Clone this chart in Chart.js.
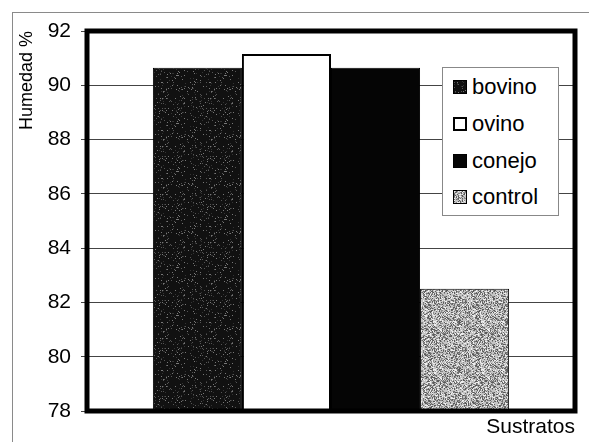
<!DOCTYPE html>
<html>
<head>
<meta charset="utf-8">
<script src="https://cdn.jsdelivr.net/npm/chart.js@4/dist/chart.umd.min.js"></script>
<style>
  body { margin: 0; background: #fff; }
  #wrap { position: relative; width: 589px; height: 442px; }
  #frame { position: absolute; left: 12px; top: 12px; right: 0; bottom: 0;
           border-top: 1px solid #8a8a8a; border-left: 1px solid #8a8a8a; }
  #leyenda { position: absolute; left: 442px; top: 67px; width: 117px; height: 149px;
             background: #fff; border: 1px solid #888; box-sizing: border-box;
             font-family: "Liberation Sans", Arial, sans-serif; font-size: 22px; color: #000;
             padding-top: 1px; }
  .item { height: 36.7px; display: flex; align-items: center; padding-left: 10px; }
  .sw { width: 14px; height: 14px; box-sizing: border-box; border: 1px solid #000;
        margin-right: 5px; flex: none; }
</style>
</head>
<body>
<div id="wrap">
  <div id="frame"></div>
  <canvas id="graficoHumedad" width="589" height="442"></canvas>
  <div id="leyenda"></div>
</div>
<script>
// datos
const categorias = [''];
const sustratos = ['bovino', 'ovino', 'conejo', 'control'];
const humedad = [90.65, 91.15, 90.65, 82.5];
const ticksY = [78, 80, 82, 84, 86, 88, 90, 92];

const fuente = '"Liberation Sans", Arial, sans-serif';

// textura punteada (determinista) para imitar el relleno escaneado
function hacerPatron(base, puntos, densidad, semilla) {
    const c = document.createElement('canvas');
    c.width = 48; c.height = 48;
    const ctx = c.getContext('2d');
    ctx.fillStyle = base;
    ctx.fillRect(0, 0, 48, 48);
    for (let y = 0; y < 48; y++) {
        for (let x = 0; x < 48; x++) {
            let h = (x * 374761393 + y * 668265263 + semilla * 144665) | 0;
            h = Math.imul(h ^ (h >>> 13), 1274126177);
            h = (h ^ (h >>> 16)) >>> 0;
            const r = (h % 1000) / 1000;
            if (r < densidad) {
                ctx.fillStyle = puntos[h % puntos.length];
                ctx.fillRect(x, y, 1, 1);
            }
        }
    }
    return c;
}

const texBovino = hacerPatron('#111111', ['#555', '#777', '#333'], 0.10, 7);
const texControl = hacerPatron('#c4c4c4', ['#5a5a5a', '#8a8a8a', '#efefef', '#707070'], 0.55, 3);

const ctxTmp = document.createElement('canvas').getContext('2d');
const rellenos = [
    ctxTmp.createPattern(texBovino, 'repeat'),
    '#ffffff',
    '#050505',
    ctxTmp.createPattern(texControl, 'repeat')
];
const bordes = [1, 2, 1, 1];

// marco grueso del area de trazado
const marcoArea = {
    id: 'marcoArea',
    afterDatasetsDraw(chart) {
        const a = chart.chartArea;
        const ctx = chart.ctx;
        ctx.save();
        ctx.strokeStyle = '#000';
        ctx.lineWidth = 5;
        ctx.strokeRect(a.left, a.top, a.right - a.left, a.bottom - a.top);
        ctx.restore();
    }
};

const datosGrafico = {
    labels: categorias,
    datasets: sustratos.map((s, i) => ({
        label: s,
        data: [humedad[i]],
        backgroundColor: rellenos[i],
        borderColor: '#000',
        borderWidth: bordes[i],
        borderSkipped: false,
        categoryPercentage: 0.73,
        barPercentage: 1
    }))
};

const configuracionGrafico = {
    type: 'bar',
    data: datosGrafico,
    options: {
        responsive: false,
        animation: false,
        layout: { padding: { top: 31, right: 14, left: 0, bottom: 0 } },
        plugins: {
            legend: { display: false },
            tooltip: { enabled: false }
        },
        scales: {
            x: {
                grid: { display: false, drawTicks: false },
                border: { display: false },
                ticks: { display: false },
                title: {
                    display: true, text: 'Sustratos', align: 'end',
                    color: '#000', font: { family: fuente, size: 21 },
                    padding: { top: 0, bottom: 2 }
                },
                afterFit(scale) { scale.height = 31; }
            },
            y: {
                min: 78, max: 92,
                afterBuildTicks(scale) { scale.ticks = ticksY.map(v => ({ value: v })); },
                grid: { color: '#444', lineWidth: 1, tickLength: 6, tickColor: '#444' },
                border: { display: false },
                ticks: {
                    color: '#000', padding: 10,
                    font: { family: fuente, size: 21 }
                },
                title: {
                    display: true, text: 'Humedad %', align: 'end',
                    color: '#000', font: { family: fuente, size: 18 },
                    padding: { top: 16, bottom: 0 }
                },
                afterFit(scale) { scale.width = 87; }
            }
        }
    },
    plugins: [marcoArea]
};

var graficoHumedad = new Chart(document.getElementById('graficoHumedad'), configuracionGrafico);

// leyenda dentro del area de trazado
const leyenda = document.getElementById('leyenda');
const muestras = [
    'url(' + texBovino.toDataURL() + ')',
    '#fff',
    '#050505',
    'url(' + texControl.toDataURL() + ')'
];
sustratos.forEach((s, i) => {
    const fila = document.createElement('div');
    fila.className = 'item';
    const sw = document.createElement('span');
    sw.className = 'sw';
    sw.style.background = muestras[i];
    if (i === 1) sw.style.borderWidth = '2px';
    const txt = document.createElement('span');
    txt.textContent = s;
    fila.appendChild(sw);
    fila.appendChild(txt);
    leyenda.appendChild(fila);
});
</script>
</body>
</html>
